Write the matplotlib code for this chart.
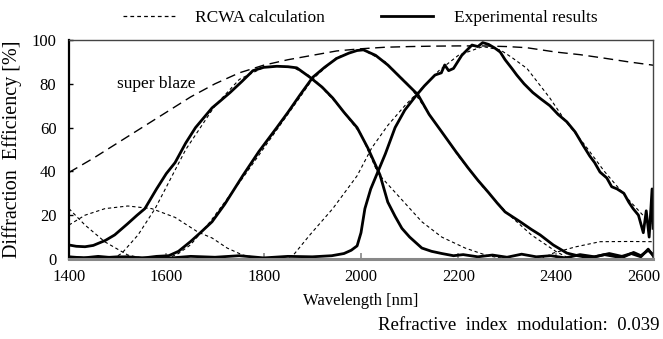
import matplotlib
matplotlib.use("Agg")
import matplotlib.pyplot as plt
from matplotlib.lines import Line2D
from matplotlib.transforms import ScaledTranslation

plt.rcParams['font.family'] = ['Liberation Serif', 'DejaVu Serif']

# super blaze envelope (RCWA)
wl_env = [1400, 1450, 1500, 1550, 1600, 1650, 1700, 1750, 1800, 1850, 1900, 1950, 2000,
          2050, 2100, 2150, 2200, 2250, 2300, 2340, 2400, 2450, 2500, 2550, 2600]
eff_env = [39.5, 46, 53, 60, 67, 74, 80, 85, 88.5, 91, 93, 95, 96,
           96.7, 97, 97.2, 97.3, 97.3, 97, 96.5, 94.5, 93.3, 91.7, 90, 88.5]

# experimental results
wl_a = [1400, 1415, 1433, 1450, 1475, 1494, 1520, 1540, 1556, 1580, 1600, 1618, 1640, 1660,
        1694, 1710, 1731, 1755, 1778, 1800, 1827, 1850, 1868, 1895, 1920, 1942, 1965, 1992,
        2014, 2039, 2055, 2070, 2084, 2100, 2125, 2145, 2166, 2190, 2210, 2240, 2270, 2300,
        2330, 2360, 2390, 2420, 2450, 2480, 2510, 2540, 2560, 2575, 2590, 2600]
eff_a = [6.4, 5.8, 5.6, 6.2, 8.5, 11, 16, 20, 23, 32, 39, 44, 53, 60,
         69, 72, 76, 81, 86, 87.5, 88, 87.8, 87.3, 83, 78.5, 73.5, 67, 60,
         50.7, 38.4, 26, 19.5, 14, 10, 5, 3.5, 2.5, 1.5, 2, 1, 1.8, 0.8,
         2.2, 1, 1.5, 0.5, 2, 1, 2.5, 1, 3, 1.5, 4, 2]

wl_b = [1400, 1430, 1460, 1490, 1520, 1550, 1580, 1605, 1625, 1650, 1670, 1694, 1720, 1757,
        1790, 1827, 1850, 1875, 1901, 1925, 1950, 1975, 1992, 2005, 2030, 2055, 2085, 2117,
        2140, 2166, 2195, 2220, 2240, 2261, 2280, 2296, 2327, 2350, 2368, 2395, 2423, 2445,
        2470, 2500, 2530, 2555, 2575, 2590, 2600]
eff_b = [1, 0.5, 1.2, 0.6, 1, 0.4, 1.2, 1.5, 3.5, 8, 12, 17, 25, 38,
         49, 60, 67, 75, 83, 87.5, 91.6, 94, 95.2, 95.5, 93, 88.6, 82, 75,
         66, 58, 49, 41.6, 36, 30.6, 25.5, 21.5, 17, 13.5, 11, 6.4, 2.7, 1.5,
         0.5, 2, 0.8, 2.5, 1, 4.5, 1.5]

wl_c = [1400, 1450, 1500, 1550, 1600, 1650, 1700, 1750, 1800, 1850, 1900, 1940, 1965, 1980,
        1992, 2000, 2008, 2020, 2035, 2050, 2070, 2090, 2111, 2130, 2152, 2165, 2172, 2180,
        2190, 2207, 2228, 2240, 2250, 2262, 2275, 2286, 2296, 2310, 2320, 2335, 2353, 2370,
        2388, 2405, 2423, 2440, 2456, 2470, 2480, 2491, 2505, 2515, 2526, 2540, 2550, 2559,
        2570, 2580, 2586, 2592, 2598, 2600]
eff_c = [0.8, 0.3, 1, 0.5, 0.3, 1.2, 0.8, 1.5, 0.5, 1.2, 1, 1.5, 2.5, 4,
         6, 12, 23, 32, 40, 48, 60, 68, 74, 79, 84, 85, 88.6, 86,
         87, 93, 97.7, 97, 98.8, 98, 96.3, 94.5, 91, 87, 84, 80, 76, 73,
         70, 66, 62.6, 58, 52, 47, 44, 39.7, 37, 33, 32, 30, 26, 23,
         20, 12, 22, 10, 32, 14]

# RCWA calculation
wl_ra = [1490, 1509, 1542, 1577, 1612, 1640, 1670, 1700, 1750, 1800, 1830, 1860, 1900, 1950,
         2000, 2035, 2076, 2125, 2166, 2214, 2260, 2300]
eff_ra = [0, 2.7, 11, 23, 38, 50, 60, 70, 82, 87.5, 88.2, 87.5, 83, 71,
          57, 39, 29, 17, 10, 5, 1.5, 0]

wl_rb = [1600, 1625, 1650, 1690, 1757, 1827, 1875, 1900, 1950, 2000, 2050, 2100, 2150, 2200,
         2250, 2300, 2350, 2400, 2430]
eff_rb = [0, 2.5, 6.5, 17, 37, 59, 74, 82, 92, 96, 90, 79, 63, 47,
          33, 21, 11, 3.5, 0]

wl_rc = [1840, 1860, 1895, 1942, 1992, 2022, 2055, 2090, 2125, 2160, 2200, 2250, 2286, 2310,
         2341, 2388, 2420, 2460, 2500, 2550, 2600]
eff_rc = [0, 1.5, 11, 23, 38, 50.7, 61, 70, 78, 86, 93, 97, 95.5, 92,
          87, 73.5, 63, 52, 40, 27, 15]

wl_s1 = [1400, 1433, 1474, 1521, 1560]
eff_s1 = [23, 15.5, 7.8, 1.8, 0]
wl_s2 = [1400, 1433, 1474, 1521, 1570, 1618, 1665, 1694, 1725, 1757, 1800]
eff_s2 = [15.5, 20, 23, 24.2, 23, 19, 12.3, 9.6, 5, 1.8, 0]
wl_s3 = [2370, 2395, 2440, 2491, 2550, 2600]
eff_s3 = [0, 2.7, 5.5, 7.9, 8, 7.9]

xticks = [1400, 1600, 1800, 2000, 2200, 2400, 2600]
yticks = [0, 20, 40, 60, 80, 100]

fig = plt.figure(figsize=(6.63, 3.39), dpi=100)
ax = fig.add_axes([0.104, 0.236, 0.881, 0.646])

dash_short = (0, (3, 2.5))
for x, y in [(wl_ra, eff_ra), (wl_rb, eff_rb), (wl_rc, eff_rc),
             (wl_s1, eff_s1), (wl_s2, eff_s2), (wl_s3, eff_s3)]:
    ax.plot(x, y, color='black', lw=0.8, linestyle=dash_short)
ax.plot(wl_env, eff_env, color='black', lw=1.0, linestyle=(0, (7, 4)))

for x, y in [(wl_a, eff_a), (wl_b, eff_b), (wl_c, eff_c)]:
    ax.plot(x, y, color='black', lw=2.0, solid_joinstyle='round')

ax.set_xlim(1400, 2600)
ax.set_ylim(0, 100)
ax.set_xticks(xticks)
ax.set_yticks(yticks)
ax.tick_params(axis='y', direction='in', length=3, width=1, pad=9, labelsize=12)
ax.tick_params(axis='x', direction='in', length=4, width=1.2, color='#888888', pad=7, labelsize=12)

# last x label sits a little to the left, as in the original
lab = ax.get_xticklabels()[-1]
lab.set_transform(lab.get_transform() + ScaledTranslation(-9 / 100, 0, fig.dpi_scale_trans))

ax.spines['left'].set_linewidth(1.6)
ax.spines['left'].set_color('black')
ax.spines['bottom'].set_linewidth(2.2)
ax.spines['bottom'].set_color('#888888')
for s in ['top', 'right']:
    ax.spines[s].set_linewidth(1.0)
    ax.spines[s].set_color('#444444')

ax.set_xlabel('Wavelength [nm]', fontsize=12, labelpad=6)
ax.set_ylabel('Diffraction  Efficiency [%]', fontsize=14.5, labelpad=7)

ax.text(1579, 80, 'super blaze', fontsize=12.5, ha='center', va='center')

fig.text(0.995, 0.04, 'Refractive  index  modulation:  0.039', fontsize=13.5,
         ha='right', va='center')

handles = [Line2D([], [], color='black', lw=0.9, linestyle=(0, (3, 2.5))),
           Line2D([], [], color='black', lw=2.0)]
fig.legend(handles, ['RCWA calculation', 'Experimental results'], ncol=2,
           loc='center', bbox_to_anchor=(0.543, 0.947), frameon=False,
           fontsize=12.5, handlelength=3.0, handletextpad=1.2, columnspacing=3.2)

fig.savefig('out.png', dpi=100)
